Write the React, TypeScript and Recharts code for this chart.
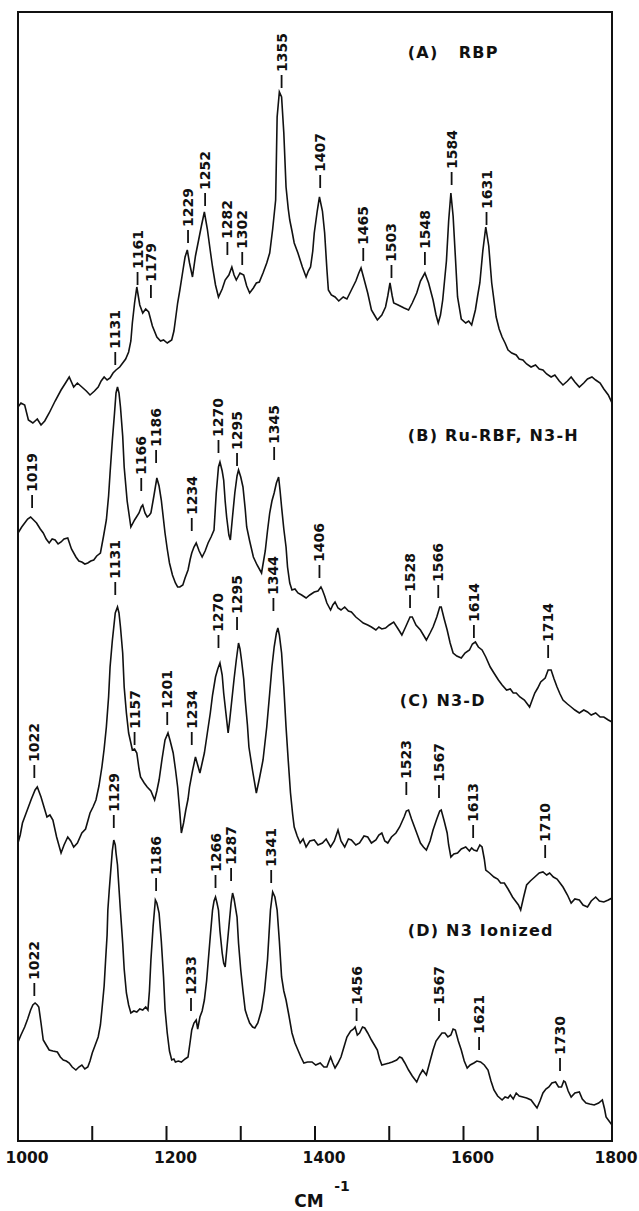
import { ComposedChart, Line, XAxis, YAxis, Scatter, ReferenceArea } from 'recharts'

// heights are measured upward from the bottom axis, in plot units (0..1129)
const rbpWn = [1000,1004,1009,1014,1020,1026,1031,1036,1042,1050,1058,1064,1069,1075,1080,1086,1092,1097,1103,1108,1112,1116,1120,1124,1128,1132,1137,1141,1145,1149,1152,1154,1157,1160,1164,1168,1172,1176,1181,1187,1192,1196,1201,1207,1210,1212,1215,1218,1222,1225,1228,1231,1235,1239,1243,1247,1251,1255,1259,1262,1266,1270,1275,1279,1284,1288,1291,1294,1299,1304,1308,1312,1317,1321,1325,1330,1335,1339,1343,1347,1349,1352,1355,1358,1361,1364,1366,1369,1372,1377,1383,1388,1391,1394,1397,1399,1403,1406,1410,1413,1416,1418,1422,1427,1432,1438,1443,1449,1455,1459,1462,1466,1471,1476,1480,1484,1490,1495,1498,1501,1504,1506,1512,1520,1526,1531,1537,1542,1548,1553,1559,1563,1566,1569,1572,1577,1580,1583,1586,1589,1592,1597,1603,1607,1611,1616,1619,1622,1626,1630,1634,1638,1644,1648,1652,1656,1660,1665,1671,1675,1680,1685,1691,1697,1702,1707,1712,1718,1723,1729,1734,1740,1745,1750,1756,1762,1767,1773,1778,1784,1789,1795,1800]
const rbpInt = [734,738,736,721,718,722,716,720,728,740,751,758,764,754,758,754,750,746,750,754,760,764,761,763,768,771,774,778,782,789,800,818,838,854,836,828,832,829,815,804,800,801,798,801,810,821,838,851,870,884,891,878,864,885,900,915,929,912,890,874,856,844,852,861,866,874,866,861,868,866,855,848,853,858,859,868,878,888,912,941,1024,1049,1044,1008,954,932,921,910,898,888,874,864,870,874,890,908,930,944,930,908,872,851,846,844,840,844,842,851,860,868,873,862,848,831,826,821,826,834,845,858,845,838,836,833,831,838,848,860,868,858,841,826,818,826,841,880,920,948,925,885,844,822,818,820,816,831,845,858,890,914,895,858,824,812,804,798,791,788,786,782,781,777,774,776,772,771,767,764,766,760,756,760,764,759,754,758,762,764,761,758,752,746,738]

const ruWn = [1000,1005,1009,1013,1017,1021,1025,1030,1034,1038,1042,1046,1050,1054,1058,1062,1067,1072,1078,1082,1086,1090,1094,1098,1102,1106,1111,1115,1119,1122,1124,1127,1130,1132,1134,1136,1138,1141,1143,1147,1152,1157,1163,1166,1168,1171,1174,1177,1179,1183,1187,1190,1193,1198,1201,1204,1208,1212,1215,1218,1222,1225,1229,1232,1234,1237,1240,1244,1248,1252,1256,1260,1264,1267,1270,1272,1275,1277,1279,1281,1284,1286,1289,1292,1295,1297,1300,1303,1306,1308,1312,1317,1322,1328,1333,1336,1339,1342,1345,1348,1351,1353,1355,1358,1361,1363,1366,1369,1373,1377,1382,1388,1393,1399,1404,1408,1410,1413,1416,1421,1424,1427,1431,1435,1440,1445,1449,1455,1460,1465,1471,1476,1482,1486,1490,1495,1500,1506,1512,1517,1522,1528,1531,1536,1542,1546,1550,1555,1559,1564,1568,1570,1574,1578,1582,1586,1591,1597,1602,1608,1612,1616,1620,1625,1630,1636,1641,1647,1652,1658,1663,1667,1671,1676,1682,1686,1689,1692,1696,1700,1704,1710,1714,1718,1722,1726,1730,1734,1740,1745,1750,1756,1762,1767,1772,1778,1784,1789,1795,1800]
const ruInt = [608,614,618,622,624,621,618,612,608,602,598,602,601,597,599,602,603,592,584,580,579,577,578,580,581,585,588,604,621,645,668,700,728,748,754,748,734,705,674,640,614,621,628,634,636,628,624,626,628,645,663,655,641,608,592,578,566,558,554,554,556,563,571,582,588,594,598,590,584,590,598,604,611,648,674,679,670,661,640,624,606,601,625,648,665,671,664,654,632,614,600,584,576,568,590,610,628,640,648,658,664,650,634,612,594,574,558,551,552,548,546,543,546,549,550,554,551,545,538,531,536,539,533,531,534,530,529,524,521,518,516,514,511,514,512,513,516,519,512,506,514,524,524,516,511,506,501,508,514,524,534,534,522,511,498,488,485,483,488,491,497,499,494,491,484,474,468,461,456,451,452,448,448,444,441,437,434,440,448,453,459,463,471,471,462,454,447,441,437,434,431,428,431,429,426,428,424,424,421,419]

const n3dWn = [1000,1003,1006,1010,1014,1018,1023,1026,1028,1031,1035,1039,1043,1047,1052,1058,1062,1067,1071,1075,1080,1086,1091,1097,1101,1105,1109,1113,1116,1119,1122,1124,1127,1131,1134,1136,1138,1141,1143,1146,1149,1152,1154,1157,1160,1163,1165,1170,1174,1179,1184,1187,1190,1194,1198,1202,1205,1209,1212,1215,1218,1220,1223,1226,1229,1231,1235,1239,1242,1245,1248,1251,1255,1259,1262,1266,1269,1272,1275,1277,1280,1283,1285,1288,1291,1294,1297,1299,1301,1304,1306,1309,1311,1316,1321,1325,1330,1335,1339,1342,1345,1348,1350,1352,1355,1358,1361,1364,1367,1370,1372,1376,1380,1384,1388,1393,1399,1404,1410,1415,1421,1426,1431,1435,1440,1445,1449,1455,1460,1466,1471,1476,1482,1486,1490,1494,1498,1503,1509,1514,1520,1523,1526,1530,1534,1538,1542,1546,1550,1555,1559,1564,1568,1570,1574,1578,1580,1583,1587,1592,1597,1603,1608,1611,1614,1618,1622,1625,1628,1630,1635,1641,1646,1650,1655,1660,1666,1670,1674,1677,1681,1685,1690,1696,1702,1707,1712,1716,1721,1726,1730,1734,1740,1745,1750,1756,1761,1767,1772,1778,1783,1789,1795,1800]
const n3dInt = [298,306,318,326,334,342,351,354,350,344,334,324,326,321,304,288,296,304,300,294,298,308,312,328,334,341,355,374,392,414,444,474,500,528,534,528,514,488,454,428,408,398,391,392,388,372,364,358,354,350,341,350,361,382,401,408,400,388,372,354,328,308,318,331,342,354,370,384,376,368,378,388,408,428,446,464,472,478,466,448,428,408,420,441,462,481,498,492,481,462,441,416,394,370,348,362,381,414,448,474,494,508,513,506,488,454,414,380,348,326,314,305,298,302,294,300,301,296,298,302,294,300,311,300,294,302,301,296,298,305,304,298,301,306,308,300,298,304,308,314,324,330,331,322,314,306,298,294,291,300,311,322,330,331,320,308,296,284,287,288,292,294,290,293,291,290,296,294,282,271,268,264,262,258,258,252,244,240,236,231,244,256,260,264,268,269,266,268,264,262,258,254,246,238,242,241,236,234,240,244,240,239,241,243]

const ionWn = [1000,1004,1009,1013,1017,1020,1023,1026,1028,1031,1034,1038,1042,1047,1053,1057,1061,1065,1069,1073,1078,1082,1086,1090,1094,1097,1100,1104,1108,1111,1113,1116,1118,1120,1121,1123,1125,1127,1129,1131,1132,1134,1135,1138,1141,1143,1146,1149,1152,1156,1160,1164,1168,1172,1175,1177,1179,1182,1185,1187,1190,1193,1196,1198,1201,1204,1207,1210,1212,1216,1220,1225,1229,1232,1234,1237,1240,1242,1245,1248,1251,1254,1256,1259,1262,1264,1266,1268,1270,1272,1275,1277,1279,1281,1284,1287,1289,1291,1295,1297,1300,1303,1306,1309,1312,1316,1319,1323,1328,1332,1336,1338,1340,1343,1346,1349,1352,1355,1358,1361,1365,1369,1373,1377,1381,1385,1390,1396,1401,1407,1412,1416,1419,1421,1424,1427,1431,1435,1439,1443,1448,1452,1454,1457,1460,1464,1467,1471,1476,1480,1484,1487,1490,1495,1500,1504,1510,1514,1517,1521,1526,1531,1537,1541,1545,1548,1550,1555,1559,1563,1567,1571,1575,1579,1583,1586,1589,1593,1597,1601,1605,1609,1614,1618,1623,1628,1633,1637,1641,1646,1652,1656,1660,1663,1667,1671,1675,1680,1685,1691,1695,1699,1703,1707,1711,1715,1719,1724,1728,1732,1735,1737,1741,1745,1750,1756,1760,1765,1770,1776,1782,1787,1790,1792,1796,1800]
const ionInt = [99,106,114,122,131,136,138,136,134,118,101,96,91,90,89,84,81,80,78,74,71,74,76,72,74,80,88,96,104,116,131,155,181,206,231,252,271,290,301,296,288,276,264,230,198,172,148,136,128,130,129,132,131,134,131,150,181,215,241,238,228,200,164,132,108,90,81,82,79,80,79,82,84,100,111,118,121,112,124,130,141,160,178,205,231,240,244,238,231,210,188,178,174,190,214,238,248,242,224,198,171,150,131,124,118,114,113,118,131,150,181,206,231,249,244,231,200,164,150,141,125,108,98,91,84,78,79,79,76,78,74,74,80,84,78,73,78,84,94,104,110,112,114,106,108,114,113,108,101,96,91,82,76,77,78,79,81,84,83,78,71,65,59,66,71,68,66,80,91,100,104,108,108,104,106,112,111,100,91,80,73,76,78,80,79,76,71,60,51,45,41,44,43,46,42,48,45,44,43,41,37,33,40,48,52,54,58,59,54,54,60,59,50,44,48,49,42,38,37,36,38,41,32,24,20,16]

const peakLabelsA = [1131,1161,1179,1229,1252,1282,1302,1355,1407,1465,1503,1548,1584,1631]
const peakHeightsA = [774,854,841,896,933,884,874,1051,951,878,861,874,954,914]
const peakLabelsB = [1019,1166,1186,1234,1270,1295,1345,1406,1528,1566,1614,1714]
const peakHeightsB = [631,648,676,608,686,673,679,561,531,541,501,481]
const peakLabelsC = [1022,1131,1157,1201,1234,1270,1295,1344,1523,1567,1613,1710]
const peakHeightsC = [361,544,394,414,394,491,509,528,344,341,301,281]
const peakLabelsD = [1022,1129,1186,1233,1266,1287,1341,1456,1567,1621,1730]
const peakHeightsD = [143,311,248,128,251,258,256,118,118,89,68]

const panelTitles = ['(A)   RBP', '(B) Ru-RBF, N3-H', '(C) N3-D', '(D) N3 Ionized']
const panelTitleWn = [1525, 1525, 1514, 1525]
const panelTitleHeight = [1089, 706, 441, 211]

const xTicks = [1000, 1100, 1200, 1300, 1400, 1500, 1600, 1700, 1800]

const FONT = '"DejaVu Sans", sans-serif'
const INK = '#111'

const toPoints = (wn: number[], h: number[]) => wn.map((x, i) => ({ x, y: h[i] }))
const toPeaks = (labels: number[], h: number[]) => labels.map((x, i) => ({ x, y: h[i], label: String(x) }))

const spectra = [
  toPoints(rbpWn, rbpInt),
  toPoints(ruWn, ruInt),
  toPoints(n3dWn, n3dInt),
  toPoints(ionWn, ionInt),
]
const peaks = [
  toPeaks(peakLabelsA, peakHeightsA),
  toPeaks(peakLabelsB, peakHeightsB),
  toPeaks(peakLabelsC, peakHeightsC),
  toPeaks(peakLabelsD, peakHeightsD),
]
const titles = panelTitles.map((t, i) => ({ x: panelTitleWn[i], y: panelTitleHeight[i], label: t }))

function PeakMark(props: any) {
  const { cx, cy, payload } = props
  if (cx == null || cy == null) return null
  const ty = cy - 18
  return (
    <g>
      <line x1={cx} y1={cy - 2} x2={cx} y2={cy - 15} stroke={INK} strokeWidth={1.8} />
      <text
        x={cx}
        y={ty}
        transform={`rotate(-90 ${cx} ${ty})`}
        dominantBaseline="central"
        fontSize={14}
        fontWeight="bold"
        fontFamily={FONT}
        fill={INK}
      >
        {payload.label}
      </text>
    </g>
  )
}

function PanelTitle(props: any) {
  const { cx, cy, payload } = props
  if (cx == null || cy == null) return null
  return (
    <text
      x={cx}
      y={cy}
      dominantBaseline="central"
      fontSize={16}
      fontWeight="bold"
      letterSpacing={1.2}
      fontFamily={FONT}
      fill={INK}
      style={{ whiteSpace: 'pre' }}
    >
      {payload.label}
    </text>
  )
}

function AxisTick(props: any) {
  const { x, y, payload } = props
  const v = payload.value
  const dx = v === 1800 ? 4 : 9
  return (
    <g>
      {v > 1000 && v < 1800 && <line x1={x} y1={y} x2={x} y2={y - 15} stroke={INK} strokeWidth={2} />}
      {v % 200 === 0 && (
        <text x={x + dx} y={y + 22} textAnchor="middle" fontSize={15.5} fontWeight="bold" fontFamily={FONT} fill={INK}>
          {v}
        </text>
      )}
    </g>
  )
}

function AxisTitle(props: any) {
  const { viewBox } = props
  const cx = viewBox.x + viewBox.width / 2
  const base = viewBox.y + 66
  return (
    <g fill={INK} fontFamily={FONT} fontWeight="bold">
      <text x={cx - 6} y={base} textAnchor="middle" fontSize={17}>CM</text>
      <text x={cx + 27} y={base - 16} textAnchor="middle" fontSize={14}>-1</text>
    </g>
  )
}

export default function App() {
  return (
    <div style={{ position: 'absolute', left: 0, top: 0, width: 639, height: 1211, background: '#fff' }}>
      <ComposedChart width={639} height={1211} margin={{ top: 12, right: 27, left: 18, bottom: 30 }}>
        <XAxis
          type="number"
          dataKey="x"
          domain={[1000, 1800]}
          ticks={xTicks}
          interval={0}
          tickSize={0}
          tickMargin={0}
          axisLine={false}
          tick={<AxisTick />}
          height={40}
          allowDataOverflow
          label={{ content: <AxisTitle /> }}
        />
        <YAxis type="number" dataKey="y" domain={[0, 1129]} hide allowDataOverflow />
        <ReferenceArea x1={1000} x2={1800} y1={0} y2={1129} fill="none" stroke={INK} strokeWidth={2} ifOverflow="visible" />
        {spectra.map((d, i) => (
          <Line
            key={i}
            data={d}
            dataKey="y"
            type="linear"
            stroke={INK}
            strokeWidth={1.6}
            dot={false}
            activeDot={false}
            isAnimationActive={false}
          />
        ))}
        {peaks.map((d, i) => (
          <Scatter key={'p' + i} data={d} dataKey="y" shape={<PeakMark />} isAnimationActive={false} />
        ))}
        <Scatter data={titles} dataKey="y" shape={<PanelTitle />} isAnimationActive={false} />
      </ComposedChart>
    </div>
  )
}
